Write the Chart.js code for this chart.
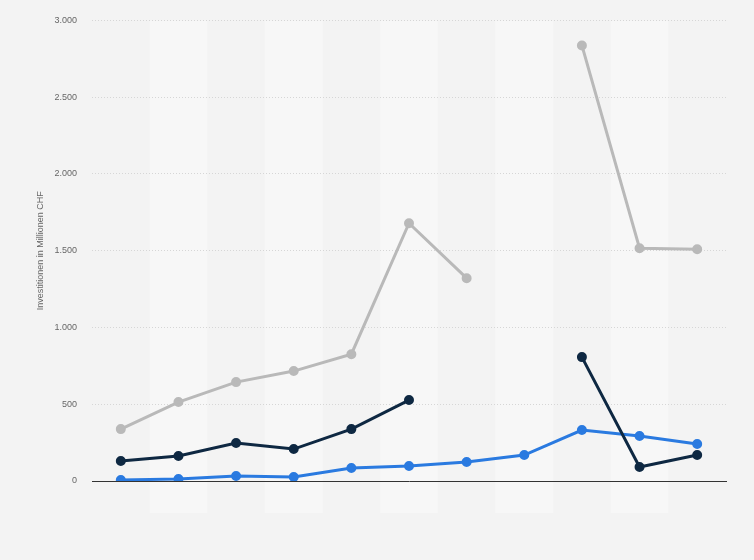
<!DOCTYPE html>
<html>
<head>
<meta charset="utf-8">
<script src="https://cdn.jsdelivr.net/npm/chart.js@4"></script>
<style>
  html, body { margin: 0; padding: 0; background: #f3f3f3; }
  #wrap { width: 754px; height: 560px; }
</style>
</head>
<body>
<div id="wrap"><canvas id="chart"></canvas></div>
<script>
// categories are not labelled in the picture
var categories = ['1', '2', '3', '4', '5', '6', '7', '8', '9', '10', '11'];
var grayValues = [338, 514, 644, 716, 826, 1679, 1321, null, 2837, 1516, 1510];
var navyValues = [130, 163, 247, 208, 338, 527, null, null, 807, 91, 169];
var blueValues = [7, 13, 33, 26, 85, 98, 124, 169, 332, 293, 241];
var yTicks = [0, 500, 1000, 1500, 2000, 2500, 3000];

// alternating column bands behind the plot
var bandPlugin = {
  id: 'bands',
  beforeDraw: function(chart) {
    var ctx = chart.ctx;
    var area = chart.chartArea;
    var x = chart.scales.x;
    var step = (area.right - area.left) / categories.length;
    ctx.save();
    for (var i = 0; i < categories.length; i++) {
      if (i % 2 === 1) {
        var cx = x.getPixelForValue(i);
        ctx.fillStyle = '#f7f7f7';
        ctx.fillRect(cx - step / 2, area.top, step, area.bottom - area.top + 32);
      }
    }
    ctx.restore();
  }
};

function line(data, color) {
  return {
    data: data,
    borderColor: color,
    backgroundColor: color,
    borderWidth: 3,
    pointRadius: 3.5,
    pointHoverRadius: 3.5,
    spanGaps: false,
    tension: 0
  };
}

var ctx = document.getElementById('chart').getContext('2d');
var chart = new Chart(ctx, {
  type: 'line',
  data: {
    labels: categories,
    datasets: [
      line(grayValues, '#b9b9b9'),
      line(navyValues, '#0e2842'),
      line(blueValues, '#2a7ae0')
    ]
  },
  options: {
    responsive: true,
    maintainAspectRatio: false,
    animation: false,
    layout: { padding: { left: 0, right: 28, top: 20, bottom: 79 } },
    plugins: { legend: { display: false }, tooltip: { enabled: false } },
    scales: {
      x: {
        offset: true,
        grid: { display: false, drawTicks: false },
        border: { display: true, color: '#333333', width: 1 },
        ticks: { display: false }
      },
      y: {
        min: 0,
        max: 3000,
        afterFit: function(scale) { scale.width = 92; },
        afterBuildTicks: function(scale) {
          scale.ticks = yTicks.map(function(v) { return { value: v }; });
        },
        grid: { color: '#d6d6d6', lineWidth: 1, drawTicks: false },
        border: { display: false, dash: [1, 2] },
        ticks: {
          padding: 15,
          color: '#666666',
          font: { family: 'Arial, Liberation Sans, sans-serif', size: 9 },
          callback: function(v) { return v.toLocaleString('de-DE'); }
        },
        title: {
          display: true,
          text: 'Investitionen in Millionen CHF',
          color: '#666666',
          padding: { top: 35 },
          font: { family: 'Arial, Liberation Sans, sans-serif', size: 9 }
        }
      }
    }
  },
  plugins: [bandPlugin]
});
</script>
</body>
</html>
